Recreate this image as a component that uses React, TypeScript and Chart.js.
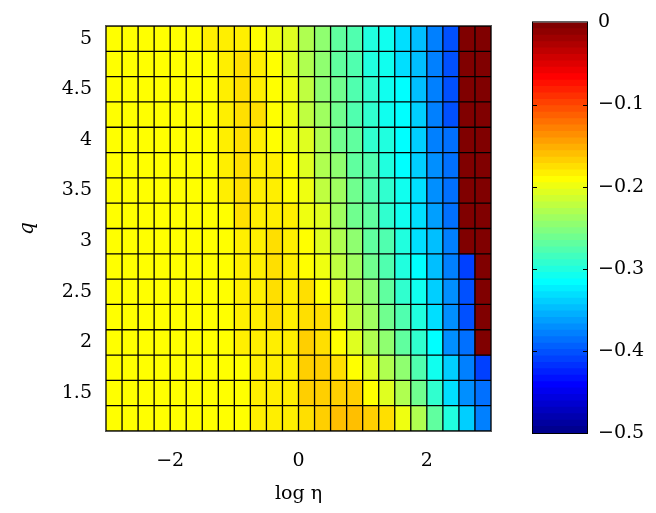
import React, { useEffect, useRef } from "react";
import { Chart, registerables } from "chart.js";

Chart.register(...registerables);

// ---- data ----
const logEta = [
  -2.875, -2.625, -2.375, -2.125, -1.875, -1.625, -1.375, -1.125,
  -0.875, -0.625, -0.375, -0.125, 0.125, 0.375, 0.625, 0.875,
  1.125, 1.375, 1.625, 1.875, 2.125, 2.375, 2.625, 2.875,
];
const qValues = [5, 4.75, 4.5, 4.25, 4, 3.75, 3.5, 3.25, 3, 2.75, 2.5, 2.25, 2, 1.75, 1.5, 1.25];

const z_q500 = [-0.191, -0.191, -0.191, -0.191, -0.191, -0.191, -0.184, -0.184, -0.184, -0.191, -0.199, -0.207, -0.230, -0.246, -0.270, -0.277, -0.301, -0.309, -0.332, -0.348, -0.379, -0.402, 0, 0];
const z_q475 = [-0.191, -0.191, -0.191, -0.191, -0.191, -0.191, -0.191, -0.184, -0.176, -0.184, -0.191, -0.207, -0.230, -0.246, -0.270, -0.277, -0.301, -0.309, -0.332, -0.348, -0.379, -0.402, 0, 0];
const z_q450 = [-0.191, -0.191, -0.191, -0.191, -0.191, -0.191, -0.191, -0.184, -0.176, -0.184, -0.191, -0.199, -0.223, -0.246, -0.262, -0.277, -0.293, -0.309, -0.316, -0.348, -0.379, -0.402, 0, 0];
const z_q425 = [-0.191, -0.191, -0.191, -0.191, -0.191, -0.191, -0.191, -0.184, -0.176, -0.176, -0.191, -0.199, -0.223, -0.238, -0.262, -0.277, -0.293, -0.309, -0.316, -0.340, -0.379, -0.402, 0, 0];
const z_q400 = [-0.191, -0.191, -0.191, -0.191, -0.191, -0.191, -0.191, -0.184, -0.176, -0.184, -0.191, -0.199, -0.207, -0.230, -0.262, -0.270, -0.293, -0.301, -0.316, -0.340, -0.379, -0.387, 0, 0];
const z_q375 = [-0.191, -0.191, -0.191, -0.191, -0.191, -0.191, -0.191, -0.184, -0.176, -0.184, -0.184, -0.191, -0.207, -0.230, -0.246, -0.270, -0.277, -0.301, -0.316, -0.340, -0.371, -0.387, 0, 0];
const z_q350 = [-0.191, -0.191, -0.191, -0.191, -0.191, -0.191, -0.191, -0.184, -0.176, -0.184, -0.184, -0.191, -0.199, -0.223, -0.238, -0.262, -0.277, -0.293, -0.309, -0.332, -0.371, -0.387, 0, 0];
const z_q325 = [-0.191, -0.191, -0.191, -0.191, -0.191, -0.191, -0.191, -0.191, -0.176, -0.184, -0.184, -0.184, -0.199, -0.207, -0.238, -0.262, -0.270, -0.293, -0.309, -0.332, -0.363, -0.387, 0, 0];
const z_q300 = [-0.191, -0.191, -0.191, -0.191, -0.191, -0.191, -0.191, -0.191, -0.184, -0.184, -0.176, -0.184, -0.191, -0.207, -0.230, -0.246, -0.270, -0.277, -0.301, -0.332, -0.348, -0.379, 0, 0];
const z_q275 = [-0.191, -0.191, -0.191, -0.191, -0.191, -0.191, -0.191, -0.191, -0.184, -0.184, -0.176, -0.184, -0.191, -0.199, -0.223, -0.238, -0.262, -0.277, -0.301, -0.316, -0.348, -0.379, -0.410, 0];
const z_q250 = [-0.191, -0.191, -0.191, -0.191, -0.191, -0.191, -0.191, -0.191, -0.184, -0.184, -0.176, -0.184, -0.176, -0.191, -0.207, -0.230, -0.246, -0.270, -0.293, -0.309, -0.340, -0.371, -0.402, 0];
const z_q225 = [-0.191, -0.191, -0.191, -0.191, -0.191, -0.191, -0.191, -0.191, -0.184, -0.184, -0.176, -0.184, -0.176, -0.176, -0.199, -0.223, -0.238, -0.262, -0.277, -0.301, -0.332, -0.371, -0.402, 0];
const z_q200 = [-0.191, -0.191, -0.191, -0.191, -0.191, -0.191, -0.191, -0.191, -0.184, -0.184, -0.184, -0.184, -0.168, -0.176, -0.191, -0.207, -0.230, -0.246, -0.270, -0.293, -0.316, -0.371, -0.387, 0];
const z_q175 = [-0.191, -0.191, -0.191, -0.191, -0.191, -0.191, -0.191, -0.191, -0.191, -0.184, -0.184, -0.184, -0.168, -0.168, -0.176, -0.191, -0.207, -0.230, -0.246, -0.277, -0.309, -0.340, -0.379, -0.410];
const z_q150 = [-0.191, -0.191, -0.191, -0.191, -0.191, -0.191, -0.191, -0.191, -0.191, -0.184, -0.184, -0.184, -0.168, -0.168, -0.168, -0.168, -0.191, -0.207, -0.230, -0.262, -0.293, -0.332, -0.371, -0.387];
const z_q125 = [-0.191, -0.191, -0.191, -0.191, -0.191, -0.191, -0.191, -0.191, -0.191, -0.184, -0.184, -0.184, -0.176, -0.168, -0.160, -0.160, -0.168, -0.176, -0.199, -0.230, -0.270, -0.301, -0.340, -0.379];

const zRows = [
  z_q500, z_q475, z_q450, z_q425, z_q400, z_q375, z_q350, z_q325,
  z_q300, z_q275, z_q250, z_q225, z_q200, z_q175, z_q150, z_q125,
];

const xTicks = [-2, 0, 2];
const yTicks = [1.5, 2, 2.5, 3, 3.5, 4, 4.5, 5];
const cbTicks = [-0.5, -0.4, -0.3, -0.2, -0.1, 0];
const cMin = -0.5;
const cMax = 0;
const nColors = 64;

// ---- styling ----
const W = 656;
const H = 513;
const FONT = "'DejaVu Serif', serif";
const FS = 19;

// MATLAB jet(64)
function jetRGB(i: number): string {
  const u = (k: number) => (k < 1 || k > 47 ? 0 : k <= 16 ? k / 16 : k <= 31 ? 1 : (48 - k) / 16);
  const r = Math.round(u(i - 24) * 255);
  const g = Math.round(u(i - 8) * 255);
  const b = Math.round(u(i + 8) * 255);
  return `rgb(${r},${g},${b})`;
}
function colorFor(v: number): string {
  let i = Math.floor(((v - cMin) / (cMax - cMin)) * nColors) + 1;
  if (i < 1) i = 1;
  if (i > nColors) i = nColors;
  return jetRGB(i);
}
const fmt = (v: number) => (v < 0 ? "\u2212" + String(Math.abs(v)) : String(v));

export default function App() {
  const mainRef = useRef<HTMLCanvasElement>(null);
  const cbRef = useRef<HTMLCanvasElement>(null);

  useEffect(() => {
    Chart.defaults.font.family = FONT;
    Chart.defaults.font.size = FS;
    Chart.defaults.color = "#000";

    const dx = logEta[1] - logEta[0];
    const dq = qValues[0] - qValues[1];

    const datasets = qValues.map((q, r) => ({
      data: logEta.map((x) => ({ x, y: [q - dq / 2, q + dq / 2] })),
      backgroundColor: zRows[r].map(colorFor),
      borderWidth: 0,
      grouped: false,
      barPercentage: 1,
      categoryPercentage: 1,
      inflateAmount: 0.5,
    }));

    // cell outlines (edges), drawn from the bar elements' own geometry
    const outlinePlugin = {
      id: "outline",
      afterDatasetsDraw(chart: any) {
        const { ctx, chartArea: a } = chart;
        ctx.save();
        ctx.strokeStyle = "#000";
        ctx.lineWidth = 1.3;
        ctx.beginPath();
        chart.data.datasets.forEach((_: any, i: number) => {
          const meta = chart.getDatasetMeta(i);
          meta.data.forEach((el: any) => {
            const p = el.getProps(["x", "y", "base", "width"], true);
            const top = Math.min(p.y, p.base);
            const h = Math.abs(p.base - p.y);
            ctx.rect(p.x - p.width / 2, top, p.width, h);
          });
        });
        ctx.stroke();
        ctx.strokeStyle = "#555";
        ctx.lineWidth = 1;
        ctx.strokeRect(a.left - 0.5, a.top - 0.5, a.right - a.left + 1, a.bottom - a.top + 1);
        ctx.restore();
      },
    };

    const main = new Chart(mainRef.current!, {
      type: "bar",
      data: { datasets: datasets as any },
      options: {
        responsive: false,
        animation: false,
        events: [],
        layout: { padding: { left: 0, top: 26, right: 165, bottom: 0 } },
        plugins: { legend: { display: false }, tooltip: { enabled: false } },
        scales: {
          x: {
            type: "linear",
            min: logEta[0] - dx / 2,
            max: logEta[logEta.length - 1] + dx / 2,
            offset: false,
            grid: { display: false, drawTicks: false, offset: false },
            border: { display: false },
            afterBuildTicks: (s: any) => {
              s.ticks = xTicks.map((v) => ({ value: v }));
            },
            afterFit: (s: any) => {
              s.height = 82;
            },
            ticks: { padding: 19, callback: (v: any) => fmt(Number(v)), maxRotation: 0, autoSkip: false },
            title: { display: true, text: "log \u03b7", padding: { top: 0, bottom: 8 } },
          },
          y: {
            type: "linear",
            min: qValues[qValues.length - 1] - dq / 2,
            max: qValues[0] + dq / 2,
            grid: { display: false, drawTicks: false },
            border: { display: false },
            afterBuildTicks: (s: any) => {
              s.ticks = yTicks.map((v) => ({ value: v }));
            },
            afterFit: (s: any) => {
              s.width = 106;
            },
            ticks: { padding: 14, callback: (v: any) => String(v), autoSkip: false },
            title: {
              display: true,
              text: "q",
              font: { style: "italic", size: 20 },
              padding: { top: 16, bottom: 0 },
            },
          },
        },
      },
      plugins: [outlinePlugin],
    } as any);

    // colorbar
    const step = (cMax - cMin) / nColors;
    const cbDatasets = Array.from({ length: nColors }, (_, k) => ({
      data: [[cMin + k * step, cMin + (k + 1) * step]],
      backgroundColor: jetRGB(k + 1),
      borderWidth: 0,
      grouped: false,
      barPercentage: 1,
      categoryPercentage: 1,
      inflateAmount: 0.5,
    }));

    const cbFrame = {
      id: "cbframe",
      afterDatasetsDraw(chart: any) {
        const { ctx, chartArea: a } = chart;
        const ys = chart.scales.y;
        ctx.save();
        ctx.strokeStyle = "#000";
        ctx.lineWidth = 1;
        ctx.strokeRect(a.left - 0.5, a.top - 0.5, a.right - a.left + 1, a.bottom - a.top + 1);
        ctx.beginPath();
        cbTicks.forEach((t) => {
          if (t === cMin || t === cMax) return;
          const y = Math.round(ys.getPixelForValue(t)) + 0.5;
          ctx.moveTo(a.left, y);
          ctx.lineTo(a.left + 4, y);
          ctx.moveTo(a.right, y);
          ctx.lineTo(a.right - 4, y);
        });
        ctx.stroke();
        ctx.restore();
      },
    };

    const cb = new Chart(cbRef.current!, {
      type: "bar",
      data: { labels: [""], datasets: cbDatasets as any },
      options: {
        responsive: false,
        animation: false,
        events: [],
        layout: { padding: { left: 533, top: 22, right: 0, bottom: 80 } },
        plugins: { legend: { display: false }, tooltip: { enabled: false } },
        scales: {
          x: { display: false },
          y: {
            position: "right",
            min: cMin,
            max: cMax,
            grid: { display: false, drawTicks: false },
            border: { display: false },
            afterBuildTicks: (s: any) => {
              s.ticks = cbTicks.map((v) => ({ value: v }));
            },
            afterFit: (s: any) => {
              s.width = 69;
            },
            ticks: { padding: 11, callback: (v: any) => fmt(Number(v)), autoSkip: false },
          },
        },
      },
      plugins: [cbFrame],
    } as any);

    return () => {
      main.destroy();
      cb.destroy();
    };
  }, []);

  return (
    <div style={{ position: "fixed", left: 0, top: 0, width: W, height: H, background: "#fff" }}>
      <canvas ref={mainRef} width={W} height={H} style={{ position: "absolute", left: 0, top: 0 }} />
      <canvas ref={cbRef} width={W} height={H} style={{ position: "absolute", left: 0, top: 0 }} />
    </div>
  );
}
